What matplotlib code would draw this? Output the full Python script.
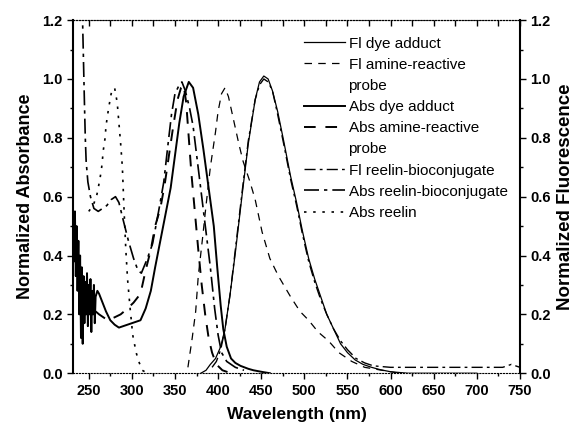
import matplotlib
matplotlib.use('Agg')
import matplotlib.pyplot as plt
from matplotlib.lines import Line2D
from matplotlib.ticker import MultipleLocator

plt.rcParams['font.family'] = ['Liberation Sans', 'DejaVu Sans']

# Datos (longitud de onda en nm, valor normalizado)
abs_dye_wl = [232, 233, 234, 235, 236, 237, 238, 239, 240, 241, 242, 243, 244, 245, 246, 247, 248, 249,
              250, 251, 252, 253, 254, 255, 256, 257, 258, 260, 262, 266, 270, 275, 280, 285, 290, 295,
              300, 305, 310, 316, 322, 327, 333, 339, 345, 350, 355, 360, 366, 371, 377, 383, 389, 395,
              399, 403, 406, 410, 415, 420, 426, 435, 441, 450, 460]
abs_dye_val = [0.52, 0.38, 0.55, 0.33, 0.50, 0.28, 0.45, 0.20, 0.40, 0.12, 0.36, 0.10, 0.33, 0.17, 0.31, 0.20, 0.34, 0.16,
               0.30, 0.20, 0.32, 0.14, 0.28, 0.20, 0.30, 0.17, 0.26, 0.28, 0.27, 0.24, 0.21, 0.18, 0.165, 0.155, 0.16, 0.165,
               0.17, 0.175, 0.18, 0.22, 0.28, 0.36, 0.45, 0.54, 0.63, 0.74, 0.85, 0.94, 0.99, 0.97, 0.88, 0.76, 0.63, 0.50,
               0.36, 0.23, 0.15, 0.09, 0.05, 0.035, 0.025, 0.015, 0.01, 0.005, 0.0]

fl_dye_wl = [380, 386, 391, 397, 403, 408, 414, 420, 428, 435, 443, 448, 453, 458, 463, 469, 476, 484, 491,
             498, 505, 512, 519, 526, 534, 542, 550, 559, 568, 578, 588, 600, 620, 700]
fl_dye_val = [0.0, 0.01, 0.03, 0.05, 0.09, 0.15, 0.27, 0.41, 0.61, 0.78, 0.93, 0.99, 1.01, 1.0, 0.96, 0.89, 0.79, 0.67, 0.58,
              0.48, 0.39, 0.32, 0.26, 0.20, 0.15, 0.10, 0.07, 0.045, 0.03, 0.02, 0.012, 0.005, 0.0, 0.0]

fl_amine_wl = [365, 367, 370, 374, 377, 382, 386, 391, 397, 400, 404, 408, 412, 418, 424, 429, 437, 443, 451,
               460, 470, 484, 495, 505, 516, 528, 540, 555, 570, 590, 610]
fl_amine_val = [0.02, 0.06, 0.12, 0.21, 0.33, 0.46, 0.57, 0.70, 0.82, 0.89, 0.95, 0.97, 0.94, 0.86, 0.78, 0.72, 0.65, 0.59, 0.48,
                0.39, 0.33, 0.26, 0.21, 0.18, 0.14, 0.11, 0.07, 0.04, 0.02, 0.01, 0.0]

abs_amine_wl = [258, 262, 267, 272, 280, 287, 295, 302, 310, 316, 322, 327, 333, 338, 343, 348, 353, 357, 360,
                363, 366, 369, 373, 377, 381, 385, 389, 393, 398, 405, 415]
abs_amine_val = [0.21, 0.20, 0.19, 0.18, 0.19, 0.20, 0.22, 0.24, 0.27, 0.35, 0.42, 0.50, 0.56, 0.64, 0.74, 0.84, 0.93, 0.97, 0.98,
                 0.92, 0.80, 0.68, 0.55, 0.42, 0.30, 0.20, 0.12, 0.07, 0.03, 0.01, 0.0]

fl_reelin_wl = [393, 398, 403, 408, 414, 420, 428, 435, 443, 448, 453, 458, 463, 469, 476, 484, 491, 498, 505,
                512, 519, 526, 534, 542, 550, 560, 570, 580, 600, 650, 700, 730, 740, 750]
fl_reelin_val = [0.02, 0.04, 0.08, 0.15, 0.27, 0.42, 0.62, 0.79, 0.93, 0.98, 1.0, 0.99, 0.96, 0.88, 0.78, 0.66, 0.57, 0.47, 0.38,
                 0.31, 0.25, 0.20, 0.15, 0.11, 0.08, 0.05, 0.035, 0.025, 0.02, 0.02, 0.02, 0.02, 0.03, 0.02]

abs_reelin_bc_wl = [241, 243, 244, 245, 246, 247, 249, 252, 256, 261, 266, 271, 276, 281, 285, 290, 296, 302, 307,
                    311, 318, 324, 331, 337, 342, 346, 350, 355, 358, 362, 367, 371, 376, 381, 386, 391, 396, 400,
                    404, 410, 420, 430]
abs_reelin_bc_val = [1.25, 1.18, 1.05, 0.92, 0.80, 0.72, 0.65, 0.60, 0.56, 0.55, 0.56, 0.57, 0.59, 0.60, 0.58, 0.52, 0.45, 0.39, 0.35,
                     0.34, 0.39, 0.44, 0.55, 0.65, 0.78, 0.88, 0.95, 0.98, 0.99, 0.96, 0.90, 0.84, 0.72, 0.60, 0.48, 0.36, 0.22, 0.13,
                     0.07, 0.04, 0.02, 0.01]

abs_reelin_wl = [250, 255, 259, 263, 265, 267, 269, 270, 273, 276, 280, 283, 285, 287, 289, 291, 293, 295, 298,
                 301, 305, 308, 312, 318]
abs_reelin_val = [0.55, 0.57, 0.60, 0.66, 0.70, 0.76, 0.80, 0.84, 0.90, 0.95, 0.97, 0.92, 0.85, 0.78, 0.70, 0.55, 0.42, 0.32, 0.22,
                  0.13, 0.07, 0.04, 0.01, 0.0]

fig = plt.figure(figsize=(5.72, 4.28), dpi=100)
ax = fig.add_subplot(111)
fig.subplots_adjust(left=0.128, right=0.909, top=0.953, bottom=0.128)

l_fl_dye, = ax.plot(fl_dye_wl, fl_dye_val, color='black', lw=0.9)
l_fl_amine, = ax.plot(fl_amine_wl, fl_amine_val, color='black', lw=0.9, ls=(0, (6, 5)))
l_abs_dye, = ax.plot(abs_dye_wl, abs_dye_val, color='black', lw=1.4)
l_abs_amine, = ax.plot(abs_amine_wl, abs_amine_val, color='black', lw=1.4, ls=(0, (6, 5)))
l_fl_reelin, = ax.plot(fl_reelin_wl, fl_reelin_val, color='black', lw=1.0, ls=(0, (8, 3, 2, 3)))
l_abs_rbc, = ax.plot(abs_reelin_bc_wl, abs_reelin_bc_val, color='black', lw=1.2, ls=(0, (9, 3, 2, 3)))
l_abs_reelin, = ax.plot(abs_reelin_wl, abs_reelin_val, color='black', lw=1.2, ls=(0, (1.5, 4)))

ax.set_xlim(232, 750)
ax.set_ylim(0, 1.2)
ax.xaxis.set_major_locator(MultipleLocator(50))
ax.xaxis.set_minor_locator(MultipleLocator(25))
ax.yaxis.set_major_locator(MultipleLocator(0.2))
ax.yaxis.set_minor_locator(MultipleLocator(0.1))
ax.yaxis.set_major_formatter(plt.FormatStrFormatter('%.1f'))

ax.tick_params(which='both', direction='out', top=False, labelsize=10.5, width=1.0)
ax.tick_params(which='major', length=4)
ax.tick_params(which='minor', length=2.5)
for lab in ax.get_xticklabels() + ax.get_yticklabels():
    lab.set_fontweight('bold')

ax.spines['left'].set_linewidth(1.5)
ax.spines['right'].set_linewidth(1.5)
ax.spines['top'].set_linewidth(0.8)
ax.spines['top'].set_linestyle(':')
ax.spines['bottom'].set_linewidth(0.8)
ax.spines['bottom'].set_linestyle(':')

ax.set_xlabel('Wavelength (nm)', fontsize=12.5, fontweight='bold', labelpad=7)
ax.set_ylabel('Normalized Absorbance', fontsize=13, fontweight='bold', labelpad=6)

# eje superior con ticks hacia adentro
top = ax.secondary_xaxis('top')
top.xaxis.set_major_locator(MultipleLocator(50))
top.xaxis.set_minor_locator(MultipleLocator(25))
top.tick_params(which='both', direction='in', labeltop=False, width=1.0)
top.tick_params(which='major', length=4)
top.tick_params(which='minor', length=4)
top.spines['top'].set_linewidth(0.8)
top.spines['top'].set_linestyle(':')

ax2 = ax.twinx()
ax2.set_ylim(0, 1.2)
ax2.yaxis.set_major_locator(MultipleLocator(0.2))
ax2.yaxis.set_minor_locator(MultipleLocator(0.1))
ax2.yaxis.set_major_formatter(plt.FormatStrFormatter('%.1f'))
ax2.tick_params(which='both', direction='out', labelsize=10.5, width=1.0)
ax2.tick_params(which='major', length=4)
ax2.tick_params(which='minor', length=2.5)
for lab in ax2.get_yticklabels():
    lab.set_fontweight('bold')
for s in ax2.spines.values():
    s.set_visible(False)
ax2.set_ylabel('Normalized Fluorescence', fontsize=13.5, fontweight='bold', labelpad=4)

# leyenda: la segunda linea "probe" va como entrada sin simbolo
blank = Line2D([], [], color='none')
handles = [l_fl_dye, l_fl_amine, blank, l_abs_dye, l_abs_amine, blank, l_fl_reelin, l_abs_rbc, l_abs_reelin]
labels = ['Fl dye adduct', 'Fl amine-reactive', 'probe', 'Abs dye adduct', 'Abs amine-reactive', 'probe',
          'Fl reelin-bioconjugate', 'Abs reelin-bioconjugate', 'Abs reelin']
ax.legend(handles, labels, loc='upper left', bbox_to_anchor=(0.50, 0.975), frameon=False, fontsize=11,
          handlelength=2.7, handletextpad=0.2, labelspacing=0.47, borderpad=0)

fig.savefig('out.png', dpi=100)
